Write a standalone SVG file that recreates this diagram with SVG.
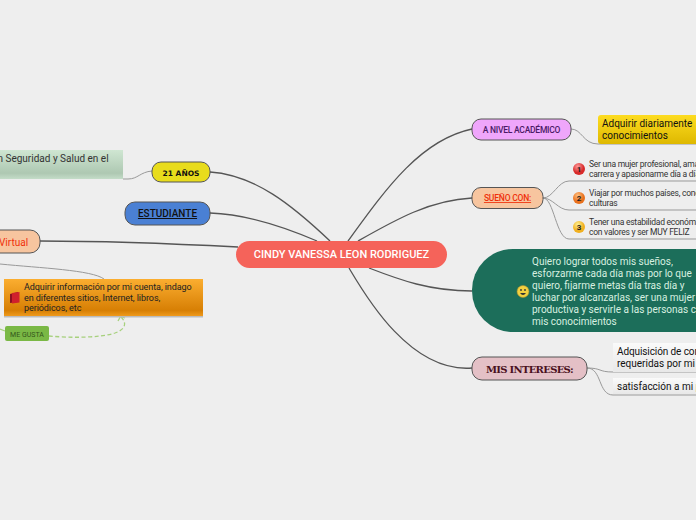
<svg xmlns="http://www.w3.org/2000/svg" width="696" height="520" viewBox="0 0 696 520">
<defs>
<style>
text{font-family:Roboto,"Liberation Sans",sans-serif}
.c{fill:none;stroke:#555;stroke-width:1.3}
.s{fill:none;stroke:#999;stroke-width:1}
.n{stroke:#555;stroke-width:1}
.t{font-size:9px;fill:#222;letter-spacing:-.07px}
.i{font-size:8.500px;fill:#333;letter-spacing:-.25px}
.d{fill:none;stroke:#a6d07c;stroke-width:1.300}
</style>
<linearGradient id="gg" x1="0" y1="0" x2="0" y2="1"><stop offset="0" stop-color="#cfe6d2"/><stop offset=".8" stop-color="#aec8b2"/><stop offset="1" stop-color="#c4dcc8"/></linearGradient>
<linearGradient id="og" x1="0" y1="0" x2="0" y2="1"><stop offset="0" stop-color="#fbae30"/><stop offset=".85" stop-color="#d77f04"/><stop offset="1" stop-color="#ef9a1c"/></linearGradient>
<linearGradient id="yg" x1="0" y1="0" x2="0" y2="1"><stop offset="0" stop-color="#fddc20"/><stop offset="1" stop-color="#deb800"/></linearGradient>
<linearGradient id="wg" x1="0" y1="0" x2="0" y2="1"><stop offset="0" stop-color="#fafafa"/><stop offset="1" stop-color="#e8e8e8"/></linearGradient>
<radialGradient id="r1" cx=".4" cy=".3"><stop offset="0" stop-color="#ff9a9a"/><stop offset="1" stop-color="#d82a2a"/></radialGradient>
<radialGradient id="r2" cx=".4" cy=".3"><stop offset="0" stop-color="#ffc080"/><stop offset="1" stop-color="#e8701c"/></radialGradient>
<radialGradient id="r3" cx=".4" cy=".3"><stop offset="0" stop-color="#fff090"/><stop offset="1" stop-color="#f0b020"/></radialGradient>
</defs>
<rect width="696" height="520" fill="#eeeeee"/>
<g id="connectors">
<path class="c" d="M210 172C255 175 292 205 330 241"/>
<path class="c" d="M210 213C245 214 282 226 317 241"/>
<path class="c" d="M40 241C110 241 180 244 238 247"/>
<path class="s" d="M0 264C40 268 92 270 104 279"/>
<path class="c" d="M348 241C385 190 420 140 472 129"/>
<path class="c" d="M358 241C395 220 430 200 472 198"/>
<path class="c" d="M349 268C365 295 410 373 472 368"/>
<path class="c" d="M369 268C400 280 430 291 472 291"/>
<path class="s" d="M123 179H128C138 179 140 172 152 171"/>
<path class="s" d="M571 129C582 129 583 144 598 144H696"/>
<path class="s" d="M543 198C553 198 558 181 569 181H696"/>
<path class="s" d="M543 198C553 198 558 210 569 210H696"/>
<path class="s" d="M543 198C554 198 556 239 569 239H696"/>
<path class="s" d="M587 368C602 368 598 372 613 372H696"/>
<path class="s" d="M587 368C602 368 598 395 613 395H696"/>
<path class="d" stroke-dasharray="4 2.500" d="M49 336C70 338 100 338 115 333C126 329 127 323 121 317"/>
<path class="d" d="M118 321L120.500 316.500L125 318"/>
<path class="d" d="M0 329L5 331"/>
</g>
<g id="node-center"><rect x="236" y="241" width="211" height="27" rx="13.5" fill="#f5635a"/><text x="341.500" y="258" text-anchor="middle" font-size="11" font-weight="500" fill="#fff">CINDY VANESSA LEON RODRIGUEZ</text></g>
<g id="node-21"><rect class="n" x="152" y="162" width="58" height="20" rx="9" fill="#e8dc1c"/><text x="181" y="175.500" text-anchor="middle" font-size="7.500" font-weight="700" style="font-family:'DejaVu Sans',sans-serif" fill="#111">21 AÑOS</text></g>
<g id="node-seguridad"><rect x="-20" y="150" width="143" height="29" fill="url(#gg)"/><text x="-2.500" y="161.500" font-size="10" fill="#333">n Seguridad y Salud en el</text></g>
<g id="node-estudiante"><rect class="n" x="125" y="202" width="85" height="23" rx="10" fill="#4a80d4"/><text x="167.500" y="217" text-anchor="middle" font-size="10" font-weight="500" text-decoration="underline" fill="#111">ESTUDIANTE</text></g>
<g id="node-virtual"><rect class="n" x="-30" y="230" width="70" height="23" rx="10" fill="#f7c59f"/><text x="-1" y="245.500" font-size="10" fill="#f0300a">Virtual</text></g>
<g id="node-adquirir"><rect x="4" y="279" width="199" height="37" fill="url(#og)"/><rect x="4" y="316" width="199" height="1.500" fill="#bbb"/>
<path d="M10 294L18 292V302L10 303Z" fill="#8f1020"/><path d="M12 293L19.500 292V302.500L12 303.500Z" fill="#d0202c"/>
<text class="t" x="24" y="290">Adquirir información por mi cuenta, indago</text><text class="t" x="24" y="300.500">en diferentes sitios, Internet, libros,</text><text class="t" x="24" y="311">periódicos, etc</text></g>
<g id="node-megusta"><rect x="5" y="326" width="44" height="15" rx="2" fill="#7ab845"/><text x="27" y="336.500" text-anchor="middle" font-size="7" fill="#33551a">ME GUSTA</text></g>
<g id="node-academico"><rect class="n" x="472" y="119" width="99" height="21" rx="9" fill="#efa6fb"/><text x="521.500" y="132.500" text-anchor="middle" font-size="8.500" letter-spacing="-.25" font-weight="500" fill="#4a1a66">A NIVEL ACADÉMICO</text></g>
<g id="node-diariamente"><path d="M598 118Q598 115 601 115H696V144H601Q598 144 598 141Z" fill="url(#yg)"/><text x="602" y="127" font-size="10" fill="#111">Adquirir diariamente</text><text x="602" y="139" font-size="10" fill="#111">conocimientos</text></g>
<g id="node-sueno"><rect class="n" x="472" y="187.500" width="71" height="21" rx="9" fill="#f7c59f"/><text x="507.500" y="201" text-anchor="middle" font-size="8.500" letter-spacing="-.2" font-weight="500" text-decoration="underline" fill="#f0300a">SUEÑO CON:</text></g>
<g id="node-s1"><circle cx="579" cy="169" r="6" fill="url(#r1)"/><text x="579" y="172" text-anchor="middle" font-size="8" font-weight="700" fill="#222">1</text><text class="i" x="589" y="167">Ser una mujer profesional, amar</text><text class="i" x="589" y="177">carrera y apasionarme día a día p</text></g>
<g id="node-s2"><circle cx="579" cy="198" r="6" fill="url(#r2)"/><text x="579" y="201" text-anchor="middle" font-size="8" font-weight="700" fill="#222">2</text><text class="i" x="589" y="196">Viajar por muchos países, cono</text><text class="i" x="589" y="206">culturas</text></g>
<g id="node-s3"><circle cx="579" cy="227" r="6" fill="url(#r3)"/><text x="579" y="230" text-anchor="middle" font-size="8" font-weight="700" fill="#222">3</text><text class="i" x="589" y="225">Tener una estabilidad económica</text><text class="i" x="589" y="234.500">con valores y ser MUY FELIZ</text></g>
<g id="node-quiero"><rect x="472" y="249" width="280" height="83" rx="41" fill="#1c6e5a"/>
<circle cx="523" cy="291.500" r="6" fill="#f2d040" stroke="#a89030" stroke-width=".6"/><circle cx="521" cy="290" r=".9" fill="#333"/><circle cx="525" cy="290" r=".9" fill="#333"/><path d="M520 293Q523 297 526 293Z" fill="#333"/>
<g font-size="10" fill="#d8f0e0"><text x="532" y="265">Quiero lograr todos mis sueños,</text><text x="532" y="277">esforzarme cada día mas por lo que</text><text x="532" y="289">quiero, fijarme metas día tras día y</text><text x="532" y="301">luchar  por alcanzarlas, ser una mujer</text><text x="532" y="313">productiva y servirle a las personas c</text><text x="532" y="325">mis conocimientos</text></g></g>
<g id="node-intereses"><rect class="n" x="472" y="357" width="115" height="23" rx="10" fill="#e4c0c6"/><text x="529.500" y="373" text-anchor="middle" font-size="10" letter-spacing="-.7" font-weight="700" style="font-family:'DejaVu Serif',serif" fill="#4a1020">MIS INTERESES:</text></g>
<g id="node-i1"><rect x="613" y="343" width="83" height="29" fill="url(#wg)"/><text x="617" y="354.500" font-size="10" letter-spacing="-.1" fill="#111">Adquisición de con</text><text x="617" y="366.500" font-size="10" fill="#111">requeridas por mi</text></g>
<g id="node-i2"><rect x="613" y="378" width="83" height="16" fill="url(#wg)"/><text x="617" y="390" font-size="10" fill="#111">satisfacción a mi p</text></g>
</svg>
